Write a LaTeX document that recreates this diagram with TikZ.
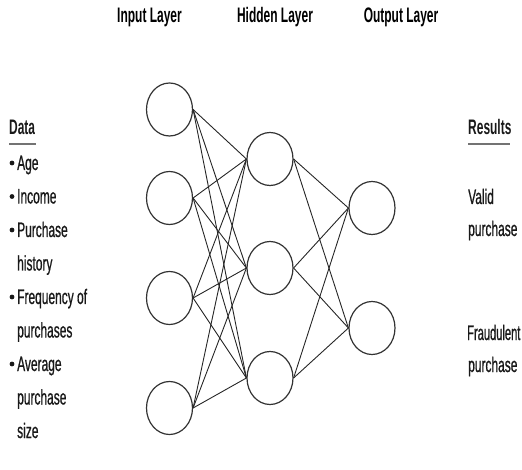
\documentclass[tikz,border=0pt]{standalone}
\usepackage{fontspec}
\usetikzlibrary{shapes.geometric,calc}
\newfontfamily\narrowfont[FakeStretch=0.57]{Liberation Sans}
\newfontfamily\narrowbody[FakeStretch=0.57,FakeBold=0.7]{Liberation Sans}
\newfontfamily\tighterbody[FakeStretch=0.53,FakeBold=0.7]{Liberation Sans}

\tikzset{
  neuron/.style={ellipse, draw=black!80, line width=1.2pt, inner sep=0pt,
                 minimum width=46pt, minimum height=53pt},
  link/.style={draw=black!85, line width=0.9pt},
  layertitle/.style={font=\narrowfont\bfseries\fontsize{21}{23}\selectfont,
                     anchor=base, inner sep=0pt, text=black},
  heading/.style={font=\narrowfont\bfseries\fontsize{21}{23}\selectfont,
                  anchor=base west, inner sep=0pt, text=black!90},
  item/.style={font=\narrowbody\fontsize{21}{23}\selectfont,
               anchor=base west, inner sep=0pt, text=black!90},
  rule/.style={draw=black!55, line width=2pt}
}

\begin{document}
\begin{tikzpicture}[x=1pt, y=-1pt]
  \useasboundingbox (0,0) rectangle (522,470);

  % layer titles
  \node[layertitle] (tin)  at (149.5,23) {Input Layer};
  \node[layertitle] (thid) at (275,23)   {Hidden Layer};
  \node[layertitle] (tout) at (401,23)   {Output Layer};

  % input layer
  \node[neuron] (i1) at (169.5,109.5) {};
  \node[neuron] (i2) at (169.5,198)   {};
  \node[neuron] (i3) at (169.5,298)   {};
  \node[neuron] (i4) at (169.5,408)   {};

  % hidden layer
  \node[neuron] (h1) at (270,159) {};
  \node[neuron] (h2) at (270,268) {};
  \node[neuron] (h3) at (270,378) {};

  % output layer
  \node[neuron] (o1) at (372,208) {};
  \node[neuron] (o2) at (372,328) {};

  % fully connected links
  \foreach \a in {i1,i2,i3,i4}
    \foreach \b in {h1,h2,h3}
      \draw[link] (\a.east) -- (\b.west);
  \foreach \a in {h1,h2,h3}
    \foreach \b in {o1,o2}
      \draw[link] (\a.east) -- (\b.west);

  % input data list
  \node[heading] (data) at (9,135) {Data};
  \draw[rule] ($(data.base west)+(0,9)$) -- ++(27,0);
  \foreach \t/\y/\b [count=\k] in {Age/170/1, Income/203.5/1, Purchase/237/1,
      history/270.5/0, Frequency of/304/1, purchases/337.5/0,
      Average/371/1, purchase/404.5/0, size/438/0} {
    \node[item] (d\k) at (17,\y) {\t};
    \ifnum\b=1
      \fill[black!90] ($(d\k.base west)+(-5,-7)$) circle (2.4pt);
    \fi
  }

  % results
  \node[heading] (res) at (468,135) {Results};
  \draw[rule] ($(res.base west)+(0,9)$) -- ++(42,0);
  \node[item] (r1) at (468,204) {Valid};
  \node[item] (r2) at (468,236) {purchase};
  \node[item, font=\tighterbody\fontsize{21}{23}\selectfont] (r3) at (467,340) {Fraudulent};
  \node[item] (r4) at (468,372) {purchase};
\end{tikzpicture}
\end{document}
